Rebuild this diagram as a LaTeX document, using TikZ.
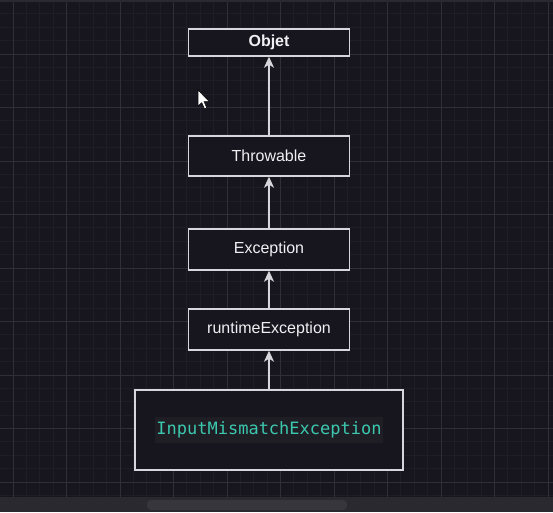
\documentclass[tikz,border=0pt]{standalone}
\usepackage{fontspec}
\setmainfont{Liberation Sans}
\newfontfamily\codefont{DejaVu Sans Mono}
\usetikzlibrary{arrows.meta}
\definecolor{bgc}{HTML}{17151D}
\definecolor{gridminor}{HTML}{1F1D25}
\definecolor{gridmajor}{HTML}{302E37}
\definecolor{boxline}{HTML}{D6D6DC}
\definecolor{txt}{HTML}{F0F0F4}
\definecolor{codec}{HTML}{3CC8AE}
\definecolor{codebg}{HTML}{1F1E25}
\definecolor{barc}{HTML}{2A2930}
\definecolor{thumbc}{HTML}{37363D}
\tikzset{
  classbox/.style={draw=boxline, line width=1.4pt, fill=bgc, text=txt,
    font=\fontsize{16}{18}\selectfont, inner sep=0pt, minimum width=161pt},
  arr/.style={draw=boxline, line width=1.5pt,
    -{Stealth[length=11pt,width=10pt,inset=3pt]}},
}
\begin{document}
\begin{tikzpicture}[x=1pt,y=-1pt]
\useasboundingbox (0,0) rectangle (553,512);
\fill[bgc] (0,0) rectangle (553,512);
% grid
\foreach \i in {-1,...,41} {
  \pgfmathsetmacro\p{13+\i*13.375}
  \draw[gridminor, line width=0.8pt] (\p,0) -- (\p,497);
}
\foreach \i in {-1,...,37} {
  \pgfmathsetmacro\p{0.5+\i*13.375}
  \draw[gridminor, line width=0.8pt] (0,\p) -- (553,\p);
}
\foreach \i in {0,...,10} {
  \pgfmathsetmacro\p{13+\i*53.5}
  \draw[gridmajor, line width=1pt] (\p,0) -- (\p,497);
}
\foreach \i in {0,...,9} {
  \pgfmathsetmacro\p{0.5+\i*53.5}
  \draw[gridmajor, line width=1pt] (0,\p) -- (553,\p);
}
\fill[barc] (0,0) rectangle (553,1.5);
% bottom scroll bar
\fill[barc] (0,497) rectangle (553,512);
\fill[thumbc, rounded corners=4pt] (147,500) rectangle (347,510);
% nodes
\node[classbox, minimum height=27pt, font=\fontsize{16}{18}\selectfont\bfseries] (obj) at (269,42.5) {Objet};
\node[classbox, minimum height=40pt] (thr) at (269,156) {Throwable};
\node[classbox, minimum height=41pt] (exc) at (269,249.5) {Exception};
\node[classbox, minimum height=41pt] (rte) at (269,329.5) {runtimeException};
\node[classbox, minimum width=268pt, minimum height=80pt] (ime) at (269,430) {};
\node[fill=codebg, text=codec, inner sep=0pt, minimum width=228pt, minimum height=26pt,
  font=\codefont\fontsize{17}{20}\selectfont] (imetxt) at (ime.center) {InputMismatchException};
% connectors
\draw[arr] (thr.north) -- (obj.south);
\draw[arr] (exc.north) -- (thr.south);
\draw[arr] (rte.north) -- (exc.south);
\draw[arr] (ime.north) -- (rte.south);
% mouse cursor
\fill[white, draw=black, line width=0.5pt] (198,90) -- (198,106) -- (201.8,102.6) -- (204.6,109) -- (206.8,108) -- (204.1,101.7) -- (209.3,101.7) -- cycle;
\end{tikzpicture}
\end{document}
